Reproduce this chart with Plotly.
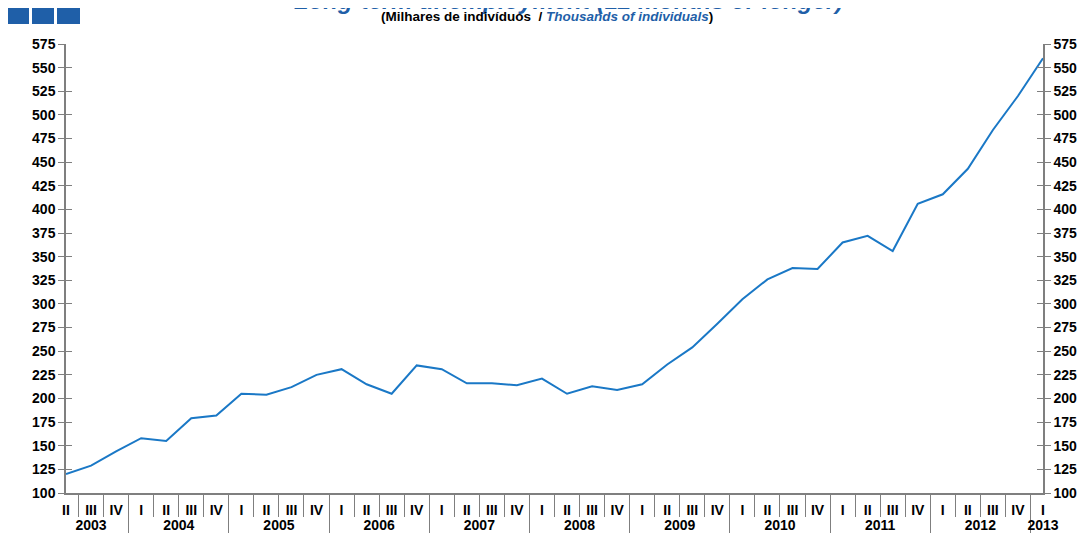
import plotly.graph_objects as go

years = ["2003"] * 3 + ["2004"] * 4 + ["2005"] * 4 + ["2006"] * 4 + ["2007"] * 4 + \
        ["2008"] * 4 + ["2009"] * 4 + ["2010"] * 4 + ["2011"] * 4 + ["2012"] * 4 + ["2013"]
# 2003 labels carry a zero-width space so that each year's quarters keep I-IV order
quarters = ["II\u200b", "III\u200b", "IV\u200b"] + ["I", "II", "III", "IV"] * 9 + ["I"]
values = [120, 129, 144,
          158, 155, 179, 182,
          205, 204, 212, 225,
          231, 215, 205, 235,
          231, 216, 216, 214,
          221, 205, 213, 209,
          215, 236, 254, 279,
          305, 326, 338, 337,
          365, 372, 356, 406,
          416, 443, 484, 520,
          560]

title_text = "Long-term unemployment (12 months or longer)"
subtitle_pt = "(Milhares de indivíduos  / "
subtitle_en = "Thousands of individuals"

AXC = "#7f7f7f"
FONT = "Liberation Sans, Arial, sans-serif"
x = [years, quarters]

W, H = 1078, 530
L, R, T, B = 58, 43, 36, 45
PW, PH = W - L - R, H - T - B

fig = go.Figure()
fig.add_trace(go.Scatter(x=x, y=values, mode="lines",
                         line=dict(color="#1a78c6", width=2), showlegend=False,
                         hoverinfo="skip"))
for ax in ["y2", "y3", "y4"]:
    fig.add_trace(go.Scatter(x=x, y=values, mode="lines", yaxis=ax,
                             line=dict(color="rgba(0,0,0,0)", width=0),
                             showlegend=False, hoverinfo="skip"))

yax_common = dict(range=[100, 575], tickmode="linear", tick0=100, dtick=25,
                  showgrid=False, zeroline=False, ticklen=6, tickwidth=1.3,
                  tickcolor=AXC, automargin=False,
                  tickfont=dict(family=FONT, size=14, color="#000000", weight="bold"))

fig.update_layout(
    width=W, height=H,
    margin=dict(l=L, r=R, t=T, b=B, autoexpand=False),
    paper_bgcolor="white", plot_bgcolor="white",
    xaxis=dict(type="multicategory", showgrid=False, showline=True,
               linecolor=AXC, linewidth=1.5, ticks="outside", tickson="boundaries",
               ticklen=22, tickcolor=AXC, tickwidth=1.3, automargin=False,
               showdividers=True, dividercolor=AXC, dividerwidth=1.3,
               ticklabelstandoff=3,
               tickfont=dict(family=FONT, size=14, color="#000000", weight="bold")),
    yaxis=dict(**yax_common, side="left", showline=True, linecolor=AXC,
               linewidth=1.5, ticks="outside"),
    yaxis2=dict(**yax_common, side="right", overlaying="y", showline=True,
                linecolor=AXC, linewidth=1.5, ticks="outside"),
    yaxis3=dict(**yax_common, side="left", overlaying="y", showline=False,
                ticks="inside", showticklabels=False),
    yaxis4=dict(**yax_common, side="right", overlaying="y", showline=False,
                ticks="inside", showticklabels=False),
)

fig.add_annotation(xref="paper", yref="paper", x=0.514, y=1 + (T + 7.5) / PH,
                   xanchor="center", yanchor="middle", showarrow=False,
                   text="<b><i>" + title_text + "</i></b>",
                   font=dict(family=FONT, size=24, color="#1f5fa8"))
fig.add_annotation(xref="paper", yref="paper", x=0.492, y=1 + (T - 8) / PH,
                   xanchor="center", yanchor="middle", showarrow=False,
                   text="<b>" + subtitle_pt + "<i><span style='color:#1f5fa8'>"
                        + subtitle_en + "</span></i>)</b>",
                   font=dict(family=FONT, size=13.5, color="#000000"))

# decorative header squares
for x0, x1 in [(-1, 21), (24, 46), (49, 72)]:
    fig.add_shape(type="rect", xref="paper", yref="paper",
                  x0=(x0 - L) / PW, x1=(x1 - L) / PW,
                  y0=1 + (T - 16) / PH, y1=1 + T / PH,
                  fillcolor="#1f5fa8", line=dict(width=0))

fig.write_html("out.html")
